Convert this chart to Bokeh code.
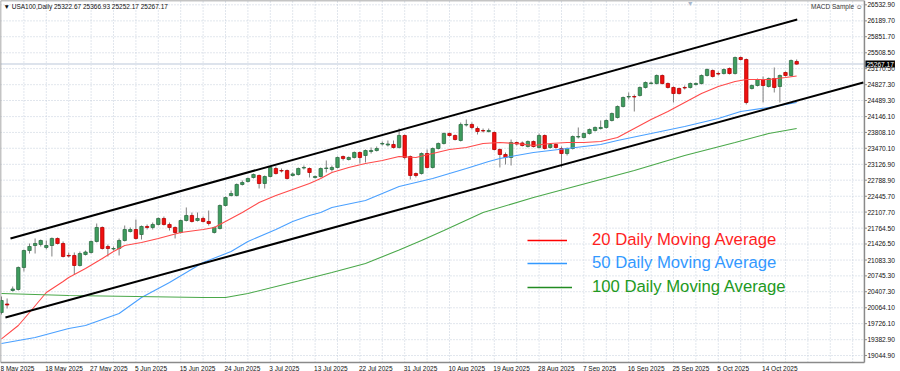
from bokeh.plotting import figure
from bokeh.models import Range1d, Label, Legend, LegendItem, ColumnDataSource
from bokeh.core.properties import value
from bokeh.embed import file_html
from bokeh.resources import INLINE

# ---------------- data ----------------
date_labels = ["8 May 2025", "18 May 2025", "27 May 2025", "5 Jun 2025", "15 Jun 2025",
               "24 Jun 2025", "3 Jul 2025", "13 Jul 2025", "22 Jul 2025", "31 Jul 2025",
               "10 Aug 2025", "19 Aug 2025", "28 Aug 2025", "7 Sep 2025", "16 Sep 2025",
               "25 Sep 2025", "5 Oct 2025", "14 Oct 2025"]
date_label_bars = [0, 8, 16, 24, 32, 40, 48, 56, 64, 72, 80, 88, 96, 104, 112, 120, 128, 136]
grid_bars = [4, 8, 12, 16, 20, 24, 28, 32, 36, 40, 44, 48, 52, 56, 60, 64, 68, 72, 76, 80,
             84, 88, 92, 96, 100, 104, 108, 112, 116, 120, 124, 128, 132, 136, 140, 144, 148, 152]

price_ticks = [26532.90, 26189.70, 25851.70, 25508.50, 25170.50, 24827.30, 24489.30,
               24146.10, 23808.10, 23470.10, 23126.90, 22788.90, 22445.70, 22107.70,
               21764.50, 21426.50, 21083.30, 20745.30, 20407.30, 20064.10, 19726.10,
               19382.90, 19044.90]

bar_open = [19964, 20145, 20433, 20455, 20925, 21287, 21394, 21416, 21352, 21394,
            21544, 21437, 21181, 21181, 20967, 21202, 21245, 21480, 21779, 21373,
            21320, 21330, 21501, 21693, 21736, 21629, 21800, 21779, 21843, 21971,
            21843, 21779, 21672, 21928, 22035, 21928, 21971, 21907, 21672, 21757,
            22248, 22462, 22462, 22697, 22761, 22846, 22889, 22718, 22867, 23038,
            22995, 22995, 22889, 22910, 23049, 23038, 22846, 22867, 23038, 23017,
            23060, 23294, 23230, 23273, 23380, 23316, 23401, 23422, 23561, 23540,
            23551, 23487, 23743, 23294, 22931, 22931, 23358, 23060, 23465, 23572,
            23785, 23743, 23636, 23967, 23978, 23892, 23849, 23828, 23807, 23444,
            23337, 23273, 23593, 23583, 23508, 23615, 23487, 23743, 23487, 23551,
            23465, 23358, 23465, 23711, 23700, 23785, 23849, 23892, 23914, 24063,
            24127, 24362, 24565, 24575, 24597, 24768, 24853, 24853, 25024, 24853,
            24768, 24746, 24768, 24768, 24832, 24853, 25024, 25131, 25066, 25066,
            25173, 25066, 25408, 25365, 24746, 24810, 24938, 24789, 24960, 24789,
            25088, 25024, 25322.67]
bar_high = [20305, 20263, 20519, 20946, 21309, 21437, 21544, 21522, 21501, 21565,
            21565, 21480, 21245, 21245, 21266, 21287, 21501, 21864, 21800, 21416,
            21373, 21544, 21821, 21779, 21949, 21821, 21843, 21885, 21992, 22013,
            21885, 21800, 21949, 22206, 22099, 22099, 22013, 22141, 21800, 22270,
            22440, 22568, 22718, 22782, 22846, 22931, 22910, 22889, 23081, 23081,
            23038, 23017, 22953, 23060, 23102, 23060, 22889, 23060, 23209, 23102,
            23294, 23316, 23294, 23401, 23401, 23444, 23487, 23508, 23615, 23636,
            23636, 23892, 23764, 23316, 22953, 23380, 23444, 23487, 23593, 23807,
            23807, 23764, 24020, 24084, 24020, 23935, 23892, 23892, 23828, 23465,
            23380, 23657, 23615, 23615, 23636, 23636, 23785, 23764, 23572, 23572,
            23508, 23487, 23743, 23914, 23807, 23892, 23935, 24063, 24084, 24234,
            24383, 24575, 24661, 24618, 24789, 24896, 24896, 25045, 25045, 24874,
            24789, 24768, 24810, 24874, 24874, 25045, 25173, 25152, 25109, 25173,
            25195, 25429, 25429, 25387, 24832, 24960, 25002, 24981, 25195, 25045,
            25109, 25365, 25366.93]
bar_low = [19921, 20049, 20412, 20433, 20839, 21223, 21223, 21373, 21309, 21159,
           21416, 21138, 21138, 20775, 20946, 21181, 21223, 21458, 21309, 21159,
           21287, 21181, 21480, 21672, 21522, 21522, 21736, 21736, 21821, 21821,
           21714, 21544, 21650, 21907, 21885, 21907, 21885, 21821, 21650, 21736,
           22227, 22440, 22440, 22675, 22739, 22825, 22611, 22611, 22846, 22910,
           22953, 22803, 22867, 22889, 23017, 22846, 22825, 22846, 22953, 22974,
           23038, 23209, 23209, 23252, 23145, 23166, 23358, 23401, 23529, 23508,
           23465, 23465, 23230, 22803, 22846, 22910, 23038, 23038, 23444, 23551,
           23721, 23636, 23615, 23935, 23871, 23764, 23807, 23807, 23422, 23060,
           23124, 23102, 23529, 23508, 23487, 23487, 23465, 23444, 23465, 23465,
           23060, 23316, 23444, 23679, 23679, 23764, 23828, 23871, 23892, 24042,
           24106, 24341, 24511, 24255, 24575, 24746, 24832, 24832, 24832, 24746,
           24447, 24618, 24725, 24746, 24810, 24832, 25002, 24981, 25024, 25045,
           25045, 25045, 25344, 24405, 24725, 24789, 24447, 24768, 24661, 24447,
           25002, 25002, 25252.17]
bar_close = [20220, 20124, 20465, 20925, 21287, 21373, 21437, 21501, 21394, 21544,
             21437, 21159, 21170, 20967, 21223, 21255, 21480, 21779, 21330, 21330,
             21330, 21501, 21736, 21736, 21544, 21800, 21779, 21843, 21971, 21843,
             21779, 21672, 21928, 22035, 21907, 21971, 21907, 21864, 21779, 22248,
             22419, 22504, 22697, 22739, 22825, 22910, 22718, 22867, 23060, 22931,
             22985, 22825, 22921, 23038, 23060, 22953, 22867, 23038, 23049, 23060,
             23273, 23252, 23273, 23380, 23273, 23422, 23422, 23465, 23572, 23561,
             23487, 23743, 23273, 22889, 22889, 23358, 23060, 23465, 23572, 23785,
             23743, 23657, 23978, 23978, 23914, 23828, 23839, 23849, 23444, 23337,
             23273, 23593, 23561, 23529, 23615, 23508, 23743, 23465, 23551, 23487,
             23358, 23465, 23721, 23721, 23785, 23871, 23914, 23914, 24063, 24212,
             24362, 24554, 24575, 24565, 24768, 24874, 24864, 25024, 24853, 24768,
             24639, 24639, 24757, 24853, 24853, 25024, 25152, 25002, 25056, 25152,
             25066, 25408, 25365, 24447, 24810, 24938, 24810, 24960, 24768, 25024,
             25024, 25344, 25267.17]

ma20_bar = [0, 3, 5, 8, 11, 12, 15, 18, 20, 22, 25, 28, 32, 36, 38, 40, 43, 46, 49, 52, 55,
            57, 59, 62, 65, 68, 71, 74, 77, 80, 83, 86, 89, 92, 95, 98, 101, 104, 107, 110,
            113, 116, 119, 122, 125, 128, 131, 133, 137, 140, 142]
ma20_val = [19400, 19686, 19964, 20391, 20626, 20711, 20903, 21117, 21266, 21394, 21458,
            21544, 21672, 21736, 21779, 21907, 22099, 22312, 22462, 22590, 22718, 22825,
            22953, 23060, 23145, 23209, 23294, 23273, 23358, 23444, 23487, 23572, 23593,
            23572, 23529, 23572, 23593, 23593, 23615, 23700, 23892, 24084, 24255, 24447,
            24640, 24789, 24896, 24938, 24938, 24981, 25013]

ma50_bar = [0, 6, 12, 15, 21, 25, 30, 36, 41, 44, 49, 52, 55, 57, 59, 65, 71, 77, 83, 87,
            89, 95, 101, 107, 110, 116, 122, 128, 132, 137, 142]
ma50_val = [19302, 19430, 19622, 19686, 19943, 20284, 20604, 21031, 21266, 21480, 21736,
            21907, 22035, 22099, 22206, 22355, 22654, 22825, 23038, 23188, 23252, 23380,
            23465, 23551, 23636, 23785, 23935, 24106, 24255, 24341, 24447]

ma100_bar = [0, 12, 24, 36, 40, 44, 53, 59, 65, 71, 75, 79, 86, 95, 101, 107, 113, 122,
             131, 137, 142]
ma100_val = [20369, 20327, 20305, 20284, 20284, 20369, 20636, 20818, 21010, 21298, 21501,
             21715, 22099, 22419, 22611, 22803, 22996, 23316, 23593, 23785, 23892]

channel_upper_bar = [1.6, 142.1]
channel_upper_val = [21544, 26219]
channel_lower_bar = [0.7, 153.9]
channel_lower_val = [19857, 24874]

header_text = "\u25BC USA100,Daily  25322.67 25366.93 25252.17 25267.17"
indicator_text = "MACD Sample \u263A"
shift_marker_bar = 123

# ---------------- layout constants ----------------
FONT = "Liberation Sans"
X_START, X_FRAME_RIGHT, X_END = -0.18, 154.1, 160.54     # bar units
Y_BOTTOM, Y_FRAME_BOTTOM, Y_TOP = 18704, 18896, 26625    # price units
GRID_COLOR = "#c3cddb"
FRAME_COLOR = "#8a8a8a"
TEXT_COLOR = "#111111"

p = figure(width=900, height=371, x_range=Range1d(X_START, X_END),
           y_range=Range1d(Y_BOTTOM, Y_TOP), output_backend="svg", toolbar_location=None,
           x_axis_location=None, y_axis_location=None,
           min_border=0, min_border_left=0, min_border_right=0,
           min_border_top=0, min_border_bottom=0)
p.outline_line_color = None
p.background_fill_color = "white"
p.border_fill_color = "white"
p.xgrid.visible = False
p.ygrid.visible = False

# grid (dotted)
nt = len(price_ticks)
p.segment(x0=[X_START] * nt, y0=price_ticks, x1=[X_FRAME_RIGHT] * nt, y1=price_ticks,
          line_color=GRID_COLOR, line_dash="1 2", line_width=1)
ng = len(grid_bars)
p.segment(x0=grid_bars, y0=[Y_FRAME_BOTTOM] * ng, x1=grid_bars, y1=[Y_TOP] * ng,
          line_color=GRID_COLOR, line_dash="1 2", line_width=1)

# current price line
p.segment(x0=[X_START], y0=[bar_close[-1]], x1=[X_FRAME_RIGHT], y1=[bar_close[-1]],
          line_color="#dde3ec", line_width=2)

# frame
p.segment(x0=[X_START, X_START, X_FRAME_RIGHT, X_START],
          y0=[Y_TOP, Y_FRAME_BOTTOM, Y_FRAME_BOTTOM, Y_FRAME_BOTTOM],
          x1=[X_FRAME_RIGHT, X_FRAME_RIGHT, X_FRAME_RIGHT, X_START],
          y1=[Y_TOP, Y_FRAME_BOTTOM, Y_TOP, Y_TOP],
          line_color=FRAME_COLOR, line_width=1.5)

# right price scale
p.segment(x0=[X_FRAME_RIGHT] * nt, y0=price_ticks, x1=[X_FRAME_RIGHT + 0.45] * nt,
          y1=price_ticks, line_color=FRAME_COLOR, line_width=1)
p.text(x=[X_FRAME_RIGHT] * nt, y=price_ticks, text=["%.2f" % v for v in price_ticks],
       x_offset=3, text_baseline="middle", text_align="left", text_font=value(FONT),
       text_font_size="6.6px", text_color=TEXT_COLOR)

# date scale
nd = len(date_labels)
p.text(x=date_label_bars, y=[Y_FRAME_BOTTOM] * nd, text=date_labels, x_offset=-1,
       y_offset=2, text_baseline="top", text_align="left", text_font=value(FONT),
       text_font_size="6.5px", text_color=TEXT_COLOR)

# candles
n = len(bar_close)
up = dict(x=[], top=[], bottom=[])
dn = dict(x=[], top=[], bottom=[])
for i in range(n):
    o, c = bar_open[i], bar_close[i]
    d = up if c >= o else dn
    d["x"].append(i)
    d["top"].append(max(o, c))
    d["bottom"].append(min(o, c))

p.segment(x0=list(range(n)), y0=bar_high, x1=list(range(n)), y1=bar_low,
          line_color="#808080", line_width=1)
p.vbar(x="x", top="top", bottom="bottom", width=0.6, source=ColumnDataSource(up),
       fill_color="#3f9d5f", line_color="#2e6f45", line_width=0.8)
p.vbar(x="x", top="top", bottom="bottom", width=0.6, source=ColumnDataSource(dn),
       fill_color="#f01010", line_color="#b80000", line_width=0.8)

# moving averages
p.line(ma20_bar, ma20_val, line_color="#ff4a4a", line_width=1.1)
p.line(ma50_bar, ma50_val, line_color="#4aa0ff", line_width=1.1)
p.line(ma100_bar, ma100_val, line_color="#4aa84a", line_width=1.1)

# channel
p.line(channel_upper_bar, channel_upper_val, line_color="black", line_width=2)
p.line(channel_lower_bar, channel_lower_val, line_color="black", line_width=2)

# legend (three single-item legends so that each label keeps its own colour)
leg_specs = [("20 Daily Moving Average", "#ff1f1f", "#ff0000", ma20_bar, ma20_val, 40, 25, 121),
             ("50 Daily Moving Average", "#3399ff", "#3399ff", ma50_bar, ma50_val, 40, 25, 98),
             ("100 Daily Moving Average", "#229922", "#228b22", ma100_bar, ma100_val, 45, 20, 74)]
for label, tcol, lcol, xs, ys, gw, stand, ly in leg_specs:
    rr = p.line(x=xs[:1], y=ys[:1], line_color=lcol, line_width=1.6)
    leg = Legend(items=[LegendItem(label=label, renderers=[rr])], location=(527, ly),
                 glyph_width=gw, glyph_height=20, label_height=20, label_standoff=stand,
                 padding=0, margin=0, spacing=0, border_line_color=None,
                 background_fill_alpha=0, label_text_color=tcol,
                 label_text_font=FONT, label_text_font_size="16.7px")
    p.add_layout(leg, "center")

# header texts
p.add_layout(Label(x=X_START, y=Y_TOP, x_offset=3, y_offset=-2, text=header_text,
                   text_baseline="top", text_font=FONT, text_font_size="6.5px",
                   text_color=TEXT_COLOR))
p.add_layout(Label(x=X_FRAME_RIGHT, y=Y_TOP, x_offset=-2, y_offset=-2, text=indicator_text,
                   text_baseline="top", text_align="right", text_font=FONT,
                   text_font_size="6.5px", text_color="#333333"))
# chart-shift marker at the top edge
p.add_layout(Label(x=shift_marker_bar, y=Y_TOP, y_offset=1, text="\u25BC",
                   text_baseline="top", text_align="center", text_font=FONT,
                   text_font_size="7px", text_color="#a9b8cc"))

# current price tag on the price scale
p.add_layout(Label(x=X_FRAME_RIGHT, y=bar_close[-1], x_offset=1, text="%.2f" % bar_close[-1],
                   text_baseline="middle", text_align="left", text_font=FONT,
                   text_font_size="6.6px", text_color="white",
                   background_fill_color="black", padding=1))

open("out.html", "w").write(file_html(p, INLINE))
